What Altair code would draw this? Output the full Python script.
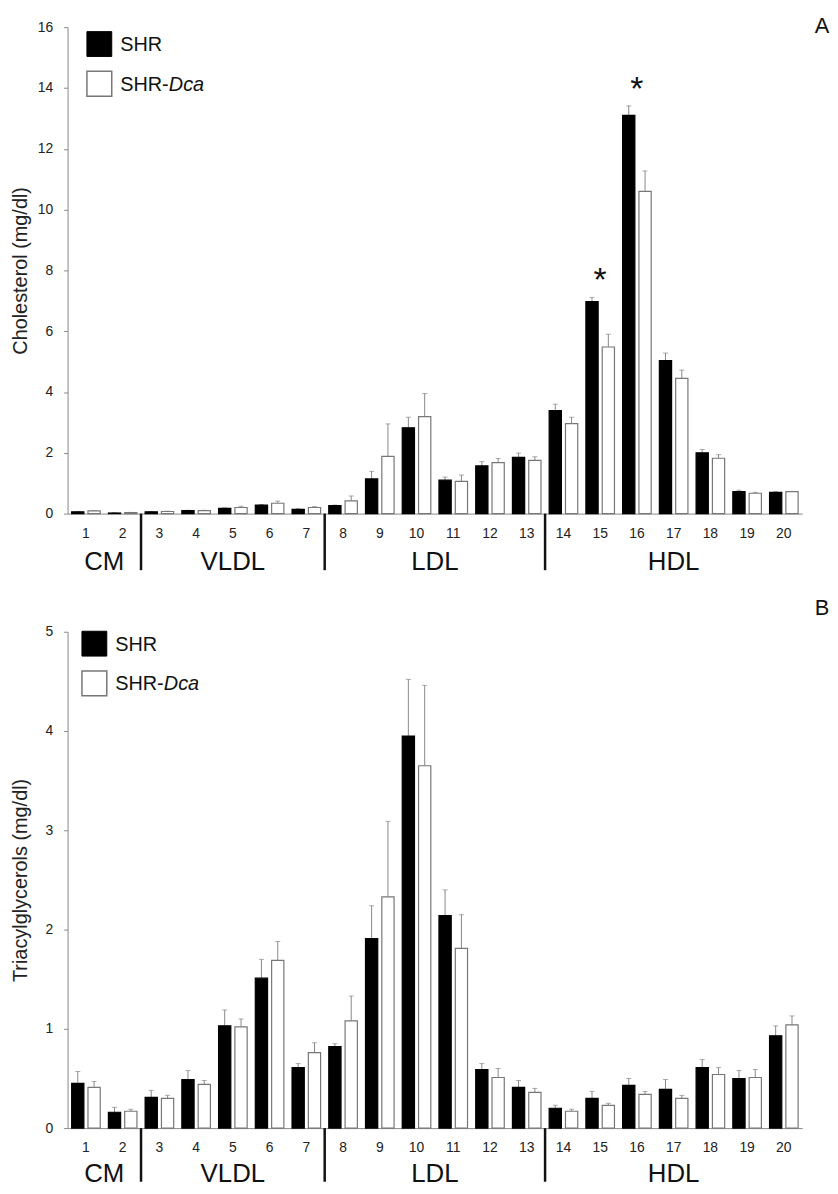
import altair as alt
import pandas as pd

FONT = "Liberation Sans"
fractions = list(range(1, 21))
groups = ["SHR", "SHR-Dca"]

# Panel A: cholesterol (mg/dl), mean and mean+SEM
chol_shr = [0.06, 0.02, 0.06, 0.10, 0.17, 0.28, 0.14, 0.26, 1.14, 2.82,
            1.10, 1.57, 1.85, 3.39, 6.97, 13.10, 5.03, 2.00, 0.72, 0.70]
chol_shr_err = [0.07, 0.03, 0.07, 0.11, 0.19, 0.30, 0.16, 0.28, 1.39, 3.17,
                1.20, 1.71, 1.99, 3.60, 7.11, 13.41, 5.28, 2.11, 0.77, 0.72]
chol_dca = [0.09, 0.03, 0.07, 0.10, 0.20, 0.34, 0.20, 0.42, 1.88, 3.19,
            1.06, 1.68, 1.75, 2.96, 5.48, 10.60, 4.45, 1.82, 0.67, 0.72]
chol_dca_err = [0.10, 0.04, 0.08, 0.11, 0.24, 0.41, 0.23, 0.58, 2.95, 3.95,
                1.27, 1.81, 1.87, 3.17, 5.90, 11.27, 4.72, 1.94, 0.70, 0.73]
chol_stars = [15, 16]

# Panel B: triacylglycerols (mg/dl)
tg_shr = [0.45, 0.16, 0.31, 0.49, 1.03, 1.51, 0.61, 0.82, 1.91, 3.95,
          2.14, 0.59, 0.41, 0.20, 0.30, 0.43, 0.39, 0.61, 0.50, 0.93]
tg_shr_err = [0.57, 0.21, 0.38, 0.58, 1.19, 1.70, 0.65, 0.85, 2.24, 4.52,
              2.40, 0.65, 0.48, 0.23, 0.37, 0.50, 0.49, 0.69, 0.58, 1.03]
tg_dca = [0.41, 0.17, 0.30, 0.44, 1.02, 1.69, 0.76, 1.08, 2.33, 3.65,
          1.81, 0.51, 0.36, 0.17, 0.23, 0.34, 0.30, 0.54, 0.51, 1.04]
tg_dca_err = [0.47, 0.19, 0.33, 0.48, 1.10, 1.88, 0.86, 1.33, 3.09, 4.46,
              2.15, 0.60, 0.40, 0.19, 0.25, 0.37, 0.33, 0.61, 0.59, 1.13]

lipo_names = ["CM", "VLDL", "LDL", "HDL"]
lipo_first = [1, 3, 8, 14]
lipo_last = [2, 7, 13, 20]

W = 740


def long_df(shr, shr_err, dca, dca_err):
    rows = []
    for i, f in enumerate(fractions):
        rows.append({"frac": f, "group": "SHR", "value": shr[i], "err": shr_err[i]})
        rows.append({"frac": f, "group": "SHR-Dca", "value": dca[i], "err": dca_err[i]})
    return pd.DataFrame(rows)


def panel(df, ymax, yvals, ytitle, h, letter, letter_y, leg_x, leg_y1, leg_y2, stars,
          lab_off, sep_len):
    xscale = alt.Scale(paddingInner=0, paddingOuter=0)
    xaxis = alt.Axis(title=None, labelAngle=0, ticks=False, tickSize=0, labelPadding=13,
                     labelFontSize=14, labelColor="#222", domainColor="#888",
                     labelBaseline="top", labelFont=FONT)
    yscale = alt.Scale(domain=[0, ymax], nice=False, zero=True)
    yaxis = alt.Axis(values=yvals, title=ytitle, grid=False, tickSize=4, tickColor="#888",
                     domainColor="#888", labelPadding=11, labelFontSize=14, labelColor="#222",
                     labelFont=FONT, titleFont=FONT, titleFontSize=20, titleFontWeight="normal",
                     titleColor="#222", titleX=-47, titleY=h / 2, titleAngle=270,
                     titleAlign="center", titleBaseline="middle", format="d")

    def X(bp=None):
        if bp is None:
            return alt.X("frac:O", sort=fractions, scale=xscale, axis=xaxis)
        return alt.X("frac:O", sort=fractions, scale=xscale, axis=xaxis, bandPosition=bp)

    xoff = alt.XOffset("group:N", sort=groups,
                       scale=alt.Scale(paddingInner=0.25, paddingOuter=0.25))
    base = alt.Chart(df)
    bars = base.mark_bar(strokeWidth=1.2).encode(
        x=X(), xOffset=xoff,
        y=alt.Y("value:Q", scale=yscale, axis=yaxis),
        fill=alt.Fill("group:N", scale=alt.Scale(domain=groups, range=["#000000", "#ffffff"]), legend=None),
        stroke=alt.Stroke("group:N", scale=alt.Scale(domain=groups, range=["#000000", "#777777"]), legend=None),
    )
    errs = base.mark_rule(color="#888888", strokeWidth=1).encode(
        x=X(), xOffset=xoff,
        y=alt.Y("value:Q", scale=yscale, axis=yaxis), y2="err:Q")
    caps = base.mark_tick(color="#888888", size=5, thickness=1).encode(
        x=X(), xOffset=xoff, y=alt.Y("err:Q", scale=yscale, axis=yaxis))

    layers = [errs, caps, bars]

    if stars:
        sdf = df[df["frac"].isin(stars)].groupby("frac", as_index=False)["err"].max()
        star = alt.Chart(sdf).mark_text(text="*", fontSize=34, font=FONT, baseline="alphabetic",
                                        align="center", dy=-6, color="#111").encode(
            x=X(0.5), y=alt.Y("err:Q", scale=yscale, axis=yaxis))
        layers.append(star)

    sep = alt.Chart(pd.DataFrame({"frac": lipo_first[1:]})).mark_rule(
        color="#111", strokeWidth=2.5).encode(x=X(0), y=alt.value(h), y2=alt.value(h + sep_len))
    layers.append(sep)

    on_center, on_edge = [], []
    for n, a, b in zip(lipo_names, lipo_first, lipo_last):
        mid = (a + b) / 2
        if mid == int(mid):
            on_center.append({"name": n, "frac": int(mid)})
        else:
            on_edge.append({"name": n, "frac": int(mid + 0.5)})
    for lst, bp in ((on_center, 0.5), (on_edge, 0)):
        layers.append(alt.Chart(pd.DataFrame(lst)).mark_text(
            fontSize=26, font=FONT, baseline="middle", align="center", color="#111").encode(
            x=X(bp), y=alt.value(h + lab_off), text="name:N"))

    one = pd.DataFrame({"k": [0]})
    layers.append(alt.Chart(one).mark_text(text=letter, fontSize=22, font=FONT, color="#111",
                                           baseline="middle", align="center").encode(
        x=alt.value(W + 20), y=alt.value(letter_y)))
    layers.append(alt.Chart(one).mark_square(size=625, fill="#000000", stroke="#000000",
                                             strokeWidth=1, opacity=1).encode(
        x=alt.value(leg_x), y=alt.value(leg_y1)))
    layers.append(alt.Chart(one).mark_square(size=625, fill="#ffffff", stroke="#777777",
                                             strokeWidth=1.5, opacity=1).encode(
        x=alt.value(leg_x), y=alt.value(leg_y2)))
    tx = leg_x + 21
    layers.append(alt.Chart(one).mark_text(text="SHR", fontSize=20, font=FONT, color="#111",
                                           align="left", baseline="middle").encode(
        x=alt.value(tx), y=alt.value(leg_y1 + 1)))
    layers.append(alt.Chart(one).mark_text(text="SHR-", fontSize=20, font=FONT, color="#111",
                                           align="left", baseline="middle").encode(
        x=alt.value(tx), y=alt.value(leg_y2 + 1)))
    layers.append(alt.Chart(one).mark_text(text="Dca", fontSize=20, font=FONT, color="#111",
                                           fontStyle="italic", align="left", baseline="middle").encode(
        x=alt.value(tx + 49), y=alt.value(leg_y2 + 1)))

    return alt.layer(*layers).properties(width=W, height=h)


dfA = long_df(chol_shr, chol_shr_err, chol_dca, chol_dca_err)
dfB = long_df(tg_shr, tg_shr_err, tg_dca, tg_dca_err)

pA = panel(dfA, 16, list(range(0, 17, 2)), "Cholesterol (mg/dl)", 490, "A", -1, 32, 17, 57,
           chol_stars, 49, 57)
pB = panel(dfB, 5, [0, 1, 2, 3, 4, 5], "Triacylglycerols (mg/dl)", 500, "B", -24, 27, 12, 52,
           None, 46, 54)

chart = alt.vconcat(pA, pB, spacing=22).properties(
    padding={"left": 3, "top": 3, "right": 0, "bottom": -5},
    background="#ffffff",
).configure_view(stroke=None)

chart.save("out.html", embed_options={"renderer": "svg", "actions": False})
